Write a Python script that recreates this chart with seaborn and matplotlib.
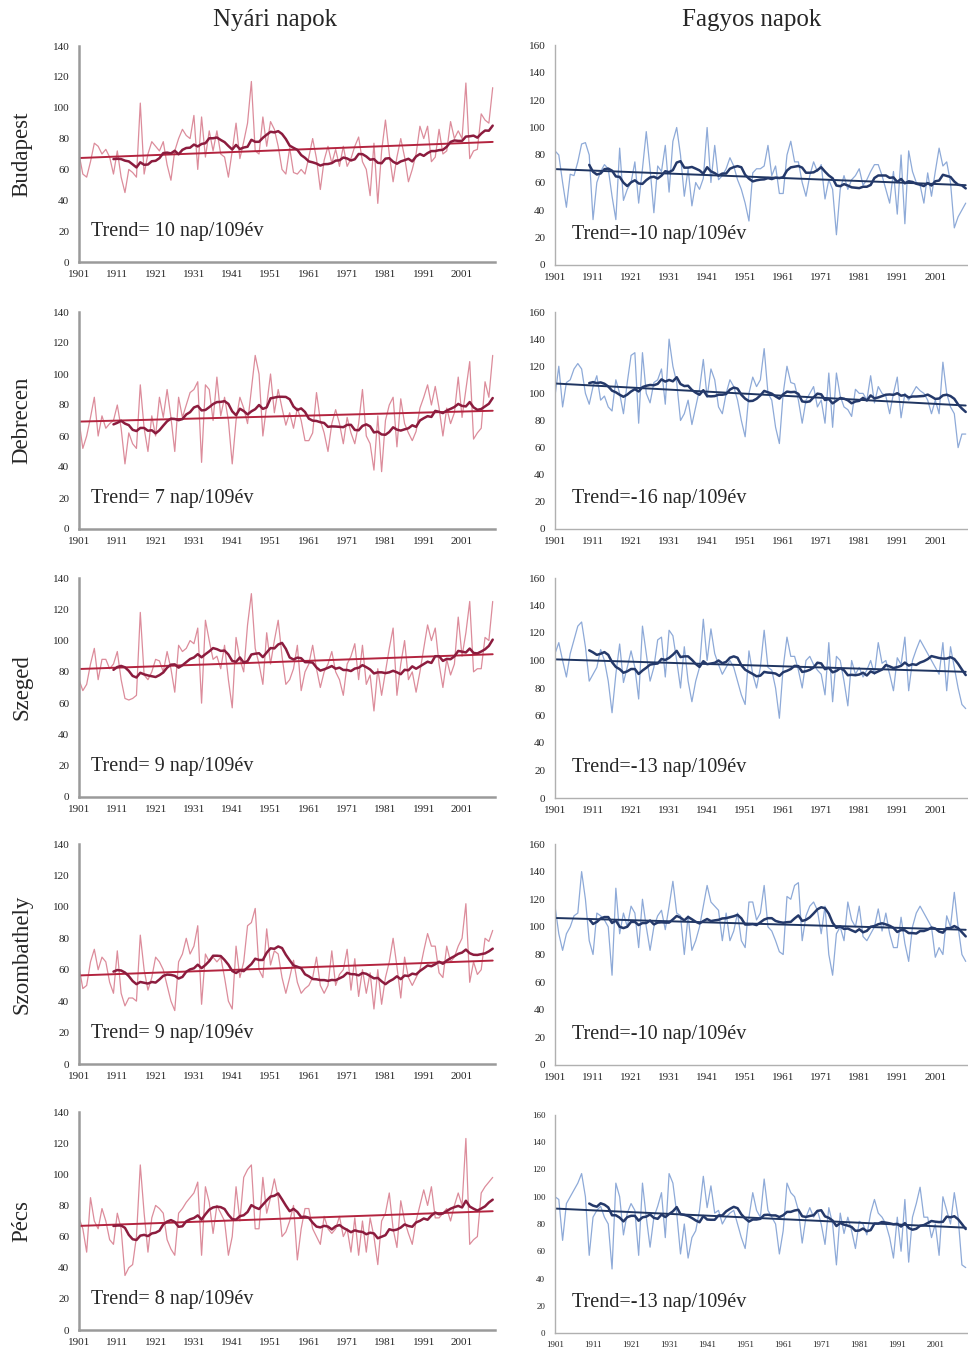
import numpy as np
import pandas as pd
import matplotlib
matplotlib.use("Agg")
import matplotlib.pyplot as plt
import seaborn as sns

# Years 1901-2009
years = list(range(1901, 2010))
cities = ["Budapest", "Debrecen", "Szeged", "Szombathely", "Pécs"]
col_titles = ["Nyári napok", "Fagyos napok"]

# Nyári napok (summer days)
budapest_summer = [
    70, 57, 55, 65, 77, 75, 70, 73, 68, 57,
    72, 55, 45, 60, 58, 55, 103, 57, 70, 78,
    75, 72, 78, 63, 53, 72, 80, 86, 82, 80,
    95, 60, 94, 68, 85, 72, 85, 70, 68, 55,
    72, 90, 67, 78, 90, 117, 72, 70, 94, 75,
    91, 86, 75, 60, 57, 74, 58, 57, 60, 57,
    68, 80, 67, 47, 66, 75, 64, 73, 62, 75,
    62, 67, 75, 81, 65, 60, 43, 77, 38, 72,
    92, 70, 52, 68, 80, 68, 52, 60, 70, 88,
    80, 88, 65, 68, 86, 70, 72, 91, 80, 85,
    80, 116, 67, 72, 73, 96, 92, 90, 113]
debrecen_summer = [
    70, 52, 60, 72, 85, 60, 73, 65, 68, 70,
    80, 65, 42, 62, 55, 52, 93, 65, 50, 73,
    60, 85, 72, 90, 72, 50, 85, 72, 80, 88,
    90, 95, 43, 93, 90, 70, 98, 73, 85, 70,
    42, 70, 85, 78, 68, 90, 112, 100, 60, 80,
    100, 75, 90, 78, 67, 75, 65, 78, 70, 57,
    57, 62, 88, 70, 62, 50, 68, 77, 68, 55,
    72, 62, 55, 68, 90, 60, 55, 38, 73, 37,
    70, 80, 85, 53, 84, 68, 62, 57, 63, 78,
    85, 93, 80, 92, 78, 60, 78, 68, 75, 98,
    72, 90, 108, 58, 62, 65, 95, 85, 112]
szeged_summer = [
    75, 68, 72, 85, 95, 75, 88, 88, 82, 85,
    93, 75, 63, 62, 63, 65, 118, 78, 75, 80,
    88, 87, 80, 93, 82, 67, 97, 93, 95, 100,
    98, 108, 60, 113, 100, 88, 90, 82, 97, 75,
    57, 102, 88, 80, 110, 130, 95, 85, 72, 105,
    85, 100, 113, 90, 72, 75, 82, 97, 68, 80,
    85, 97, 82, 70, 80, 85, 93, 80, 75, 65,
    85, 90, 98, 75, 97, 72, 78, 55, 82, 65,
    80, 95, 108, 65, 85, 100, 75, 80, 67, 80,
    95, 110, 100, 108, 85, 70, 88, 78, 85, 115,
    90, 105, 125, 80, 82, 82, 102, 100, 125]
szombathely_summer = [
    62, 48, 50, 65, 73, 60, 68, 65, 52, 45,
    72, 45, 37, 42, 42, 40, 82, 60, 47, 55,
    68, 65, 60, 50, 40, 34, 65, 70, 80, 70,
    75, 88, 38, 70, 65, 68, 65, 68, 55, 40,
    35, 75, 55, 65, 88, 90, 99, 60, 55, 86,
    63, 72, 70, 55, 45, 55, 66, 52, 45, 48,
    50, 55, 68, 50, 45, 50, 72, 50, 57, 60,
    73, 47, 67, 43, 60, 45, 58, 35, 60, 38,
    55, 65, 80, 62, 42, 68, 55, 50, 55, 60,
    72, 83, 75, 75, 58, 55, 75, 65, 68, 75,
    80, 102, 52, 65, 57, 60, 80, 78, 85]
pecs_summer = [
    72, 65, 50, 85, 70, 65, 78, 70, 58, 55,
    75, 65, 35, 40, 42, 60, 106, 75, 50, 72,
    80, 78, 75, 58, 52, 48, 75, 78, 82, 85,
    88, 95, 48, 92, 82, 62, 80, 75, 70, 48,
    60, 92, 70, 98, 103, 106, 65, 65, 98, 75,
    85, 97, 85, 60, 63, 70, 80, 45, 65, 78,
    78, 65, 60, 55, 73, 65, 62, 65, 73, 60,
    65, 50, 72, 48, 70, 50, 72, 60, 42, 70,
    75, 88, 65, 53, 83, 70, 62, 55, 70, 80,
    90, 80, 92, 72, 72, 75, 78, 70, 80, 88,
    80, 123, 55, 58, 60, 88, 92, 95, 98]

# Fagyos napok (frost days)
budapest_frost = [
    83, 80, 60, 42, 66, 65, 75, 88, 89, 80,
    33, 60, 68, 73, 70, 50, 33, 85, 47, 55,
    60, 75, 45, 70, 97, 70, 38, 72, 68, 87,
    53, 90, 100, 80, 50, 70, 43, 60, 55, 63,
    100, 60, 87, 62, 65, 70, 78, 72, 62, 55,
    45, 32, 67, 70, 70, 72, 87, 65, 72, 52,
    52, 80, 90, 75, 75, 60, 50, 65, 75, 68,
    73, 48, 62, 55, 22, 55, 65, 55, 62, 65,
    70, 58, 62, 68, 73, 73, 65, 55, 45, 68,
    37, 80, 30, 83, 68, 60, 58, 45, 67, 50,
    68, 85, 72, 75, 60, 27, 35, 40, 45]
debrecen_frost = [
    98, 120, 90, 108, 110, 118, 122, 118, 100, 92,
    105, 113, 95, 98, 90, 87, 110, 100, 85, 108,
    128, 130, 78, 130, 100, 93, 108, 110, 118, 92,
    140, 120, 108, 80, 85, 95, 77, 90, 103, 125,
    97, 118, 110, 90, 85, 100, 110, 105, 95, 80,
    68, 100, 112, 105, 110, 133, 100, 95, 75, 63,
    100, 120, 108, 107, 95, 78, 95, 100, 105, 90,
    95, 78, 115, 75, 115, 98, 90, 88, 83, 103,
    100, 100, 95, 113, 93, 105, 100, 98, 85, 100,
    112, 82, 100, 95, 100, 105, 102, 100, 95, 85,
    95, 85, 123, 100, 90, 85, 60, 70, 70]
szeged_frost = [
    105, 113, 100, 88, 105, 115, 125, 128, 110, 85,
    90, 95, 108, 100, 85, 62, 90, 112, 84, 95,
    107, 95, 72, 125, 105, 85, 95, 115, 117, 88,
    122, 118, 100, 80, 110, 85, 70, 85, 95, 130,
    100, 123, 105, 97, 90, 95, 100, 95, 85, 75,
    68, 107, 90, 80, 95, 122, 95, 93, 80, 58,
    95, 117, 103, 103, 93, 80, 100, 103, 97, 93,
    90, 75, 113, 70, 103, 100, 85, 67, 100, 90,
    95, 88, 93, 100, 90, 113, 98, 100, 90, 78,
    102, 97, 117, 78, 100, 108, 115, 110, 105, 100,
    95, 90, 113, 78, 110, 95, 80, 68, 65]
szombathely_frost = [
    115, 95, 83, 95, 100, 108, 110, 140, 120, 90,
    80, 110, 108, 105, 100, 65, 128, 95, 110, 100,
    115, 110, 85, 120, 100, 83, 100, 108, 112, 98,
    115, 133, 110, 108, 80, 108, 83, 90, 100, 115,
    130, 118, 115, 112, 90, 110, 90, 97, 110, 90,
    85, 118, 118, 105, 110, 130, 100, 97, 90, 82,
    80, 122, 120, 130, 132, 90, 108, 115, 118, 112,
    95, 115, 80, 65, 95, 100, 90, 118, 105, 100,
    115, 93, 90, 95, 100, 113, 97, 110, 95, 85,
    85, 107, 88, 75, 100, 110, 115, 110, 105, 100,
    78, 85, 80, 108, 100, 125, 100, 80, 75]
pecs_frost = [
    100, 98, 68, 95, 100, 105, 110, 117, 100, 57,
    85, 90, 93, 85, 80, 47, 110, 100, 72, 88,
    95, 90, 57, 110, 85, 63, 85, 93, 103, 70,
    117, 110, 88, 58, 80, 55, 70, 75, 90, 115,
    92, 108, 88, 90, 80, 85, 88, 90, 80, 70,
    62, 85, 103, 90, 85, 113, 90, 85, 80, 58,
    75, 110, 103, 100, 90, 66, 85, 92, 85, 90,
    80, 65, 92, 80, 50, 88, 73, 85, 75, 62,
    82, 80, 72, 88, 98, 88, 85, 80, 70, 55,
    85, 60, 98, 52, 85, 95, 107, 85, 85, 70,
    80, 57, 100, 90, 80, 103, 85, 50, 48]

summer_series = [budapest_summer, debrecen_summer, szeged_summer,
                 szombathely_summer, pecs_summer]
frost_series = [budapest_frost, debrecen_frost, szeged_frost,
                szombathely_frost, pecs_frost]
summer_trend_labels = ["Trend= 10 nap/109év", "Trend= 7 nap/109év", "Trend= 9 nap/109év",
                       "Trend= 9 nap/109év", "Trend= 8 nap/109év"]
frost_trend_labels = ["Trend=-10 nap/109év", "Trend=-16 nap/109év", "Trend=-13 nap/109év",
                      "Trend=-10 nap/109év", "Trend=-13 nap/109év"]

sns.set_style("white")
plt.rcParams['font.family'] = ['Liberation Serif', 'DejaVu Serif']

fig = plt.figure(figsize=(9.68, 13.61), dpi=100)
W, H = 968, 1361

# panel frames in pixels: (left, top, right, bottom)
left_rows = [(79, 46, 495, 262), (79, 312, 495, 529), (79, 578, 495, 797),
             (79, 844, 495, 1064), (79, 1112, 495, 1330)]
right_rows = [(555, 45, 968, 265), (555, 312, 968, 529), (555, 578, 968, 798),
              (555, 844, 968, 1065), (555, 1115, 968, 1333)]

styles = {
    "summer": dict(raw="#dc8c9b", ma="#8c1c3e", trend="#b3243f", ymax=140, spine="#9a9a9a", slw=1.8),
    "frost": dict(raw="#8eaad8", ma="#24396a", trend="#1f3561", ymax=160, spine="#b0b0b0", slw=1.0),
}


def draw_panel(frame, values, label, kind, small=False):
    st = styles[kind]
    l, t, r, b = frame
    ax = fig.add_axes([l / W, 1 - b / H, (r - l) / W, (b - t) / H])
    df = pd.DataFrame({"year": years, "value": values})
    df["ma"] = df["value"].rolling(10).mean()

    sns.lineplot(data=df, x="year", y="value", ax=ax, color=st["raw"], lw=0.9)
    sns.regplot(data=df, x="year", y="value", ax=ax, scatter=False, ci=None,
                truncate=True, line_kws=dict(color=st["trend"], lw=1.4))
    sns.lineplot(data=df.dropna(), x="year", y="ma", ax=ax, color=st["ma"], lw=1.8)

    ax.set_xlim(1901, 2009.6)
    ax.set_ylim(0, st["ymax"])
    ax.set_xticks(range(1901, 2002, 10))
    ax.set_yticks(range(0, st["ymax"] + 1, 20))
    fs = 6.5 if small else 8
    ax.tick_params(axis="x", direction="in", length=3, color=st["spine"], labelsize=fs, pad=6)
    ax.tick_params(axis="y", direction="out", length=3, color=st["spine"], labelsize=fs, pad=4)
    ax.set_xlabel("")
    ax.set_ylabel("")
    sns.despine(ax=ax)
    for side in ("left", "bottom"):
        ax.spines[side].set_color(st["spine"])
        ax.spines[side].set_linewidth(st["slw"])
    ax.text(0.03 if kind == "summer" else 0.04, 0.14, label, transform=ax.transAxes,
            fontsize=14.5, va="center", ha="left")
    return ax


for i, city in enumerate(cities):
    draw_panel(left_rows[i], summer_series[i], summer_trend_labels[i], "summer")
    draw_panel(right_rows[i], frost_series[i], frost_trend_labels[i], "frost", small=(i == 4))
    l, t, r, b = left_rows[i]
    fig.text(22 / W, 1 - (t + b) / 2 / H, city, rotation=90, fontsize=16.5,
             ha="center", va="center")

fig.text(275 / W, 1 - 20 / H, col_titles[0], fontsize=18, ha="center", va="center")
fig.text(752 / W, 1 - 20 / H, col_titles[1], fontsize=18, ha="center", va="center")

fig.savefig("out.png", dpi=100)
